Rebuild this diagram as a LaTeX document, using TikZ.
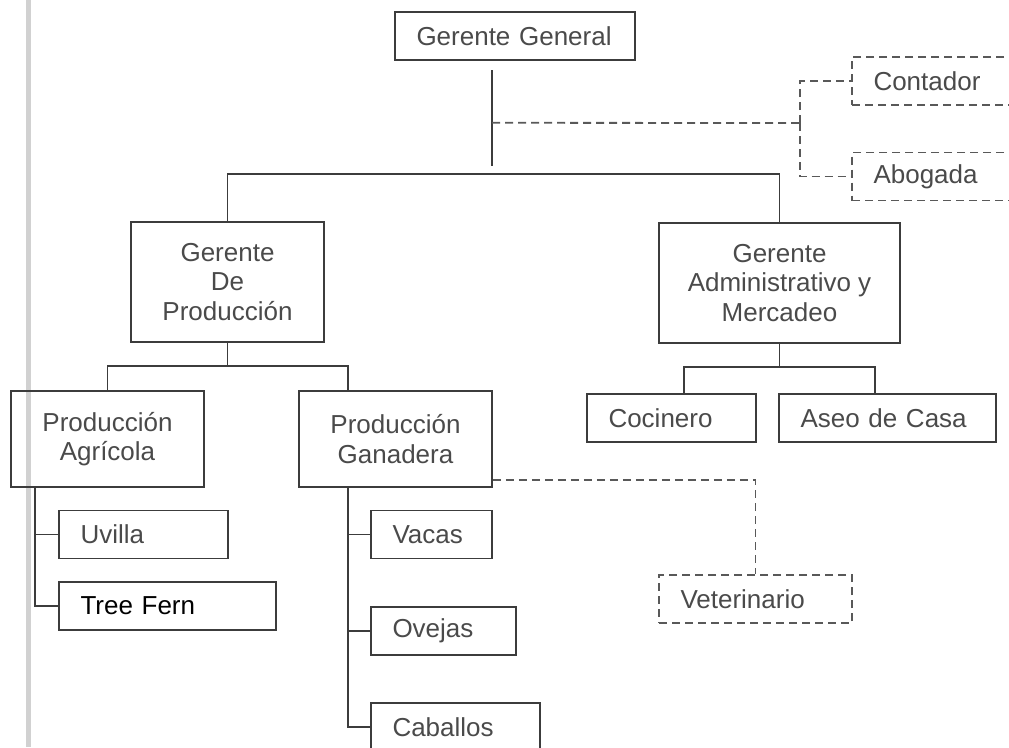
\documentclass[tikz,border=0pt]{standalone}
\usepackage{fontspec}
\setmainfont{Liberation Sans}
\usetikzlibrary{calc}

\definecolor{inkline}{HTML}{3C3C3C}
\definecolor{inktext}{HTML}{4A4A4A}

\begin{document}
\begin{tikzpicture}[x=1pt,y=-1pt,
    unit/.style ={rectangle, draw=inkline, line width=1.8pt, text=inktext,
      font=\fontsize{26}{29.5}\selectfont, inner sep=0pt, align=center},
    leaf/.style ={unit, text width=#1, align=left, inner xsep=21.5pt, minimum height=48pt},
    advisor/.style ={leaf=#1, dash pattern=on 8pt off 5pt, draw=inkline!85},
    link/.style ={draw=inkline, line width=1.8pt},
    dottedlink/.style ={link, draw=inkline!85, dash pattern=on 8pt off 5pt}]
   \useasboundingbox (0,0) rectangle (1009,747);
   \clip (0,0) rectangle (1009,747);
   \fill[black!18] (25.5,0) rectangle (30.5,747);
   % first level
   \node[leaf=197pt] (gg) at (515,36) {Gerente General};
   \node[advisor=165pt] (cont) at (956,81) {Contador};
   \node[advisor=165pt] (abog) at (956,176.5) {Abogada};
   \node[unit, minimum width=193pt, minimum height=120pt] (gp) at (227.5,282) {Gerente\\De\\Producción};
   \node[unit, minimum width=241pt, minimum height=120pt] (ga) at (779.5,283) {Gerente\\Administrativo y\\Mercadeo};
   % second level
   \node[unit, minimum width=193pt, minimum height=96pt] (pa) at (107.5,439) {Producción\\Agrícola};
   \node[unit, minimum width=193pt, minimum height=96pt] (pg) at (395.5,439) {Producción\\Ganadera};
   \node[leaf=126pt] (coc) at (671.5,418) {Cocinero};
   \node[leaf=174pt] (aseo) at (887.5,418) {Aseo de Casa};
   % third level
   \node[leaf=126pt] (uvi) at (143.5,534.5) {Uvilla};
   \node[leaf=174pt, text=black] (fern) at (167.5,606) {Tree Fern};
   \node[leaf=78pt] (vac) at (431.5,534.5) {Vacas};
   \node[leaf=102pt] (ove) at (443.5,631) {Ovejas};
   \node[leaf=126pt] (cab) at (455.5,727) {Caballos};
   \node[advisor=150pt] (vet) at (755.5,599) {Veterinario};
   % connectors
   \coordinate (stem) at (492,70);
   \coordinate (stemend) at (492,166);
   \coordinate (bus) at (492,174);
   \coordinate (staff) at (800,123);
   \draw[link] (stem) -- (stemend);
   \draw[link] (gp.north) |- (bus) -| (ga.north);
   \draw[dottedlink] ($(stem)!0.55!(stemend)$) -- (staff);
   \draw[dottedlink] (staff) |- (cont.west);
   \draw[dottedlink] (staff) |- (abog.west);
   \coordinate (pbus) at (227.5,366);
   \draw[link] (gp.south) -- (pbus);
   \draw[link] (pa.north) |- (pbus) -| (348,391);
   \coordinate (abus) at (779.5,367);
   \draw[link] (ga.south) -- (abus);
   \draw[link] (684,394) |- (abus) -| (875,394);
   \draw[link] (35,487) |- (uvi.west);
   \draw[link] (35,487) |- (fern.west);
   \draw[link] (348,487) |- (vac.west);
   \draw[link] (348,487) |- (ove.west);
   \draw[link] (348,487) |- (cab.west);
   \draw[dottedlink] ($(pg.south east)+(0,-8)$) -| (vet.north);
 \end{tikzpicture}
\end{document}
